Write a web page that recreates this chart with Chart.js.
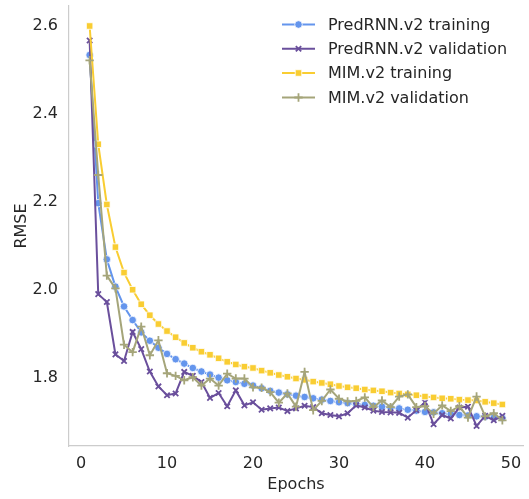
<!DOCTYPE html>
<html>
<head>
<meta charset="utf-8">
<script src="https://cdn.jsdelivr.net/npm/chart.js@4"></script>
<style>
  html, body { margin: 0; padding: 0; background: #ffffff; }
  #wrap { width: 529px; height: 499px; position: relative; }
</style>
</head>
<body>
<div id="wrap"><canvas id="c" width="529" height="499"></canvas></div>
<script>
const epochs = [1,2,3,4,5,6,7,8,9,10,11,12,13,14,15,16,17,18,19,20,21,22,23,24,25,26,27,28,29,30,31,32,33,34,35,36,37,38,39,40,41,42,43,44,45,46,47,48,49];

const predTrain = [2.534,2.197,2.069,2.007,1.962,1.931,1.903,1.884,1.868,1.854,1.842,1.832,1.822,1.814,1.807,1.800,1.794,1.790,1.786,1.782,1.776,1.770,1.766,1.762,1.759,1.756,1.753,1.750,1.747,1.744,1.742,1.740,1.738,1.736,1.734,1.732,1.730,1.727,1.725,1.722,1.721,1.719,1.717,1.715,1.714,1.712,1.711,1.709,1.708];

const predVal = [2.567,1.990,1.972,1.853,1.838,1.904,1.865,1.814,1.780,1.760,1.764,1.813,1.804,1.790,1.754,1.765,1.735,1.771,1.737,1.744,1.727,1.730,1.732,1.724,1.730,1.736,1.733,1.719,1.715,1.712,1.719,1.737,1.732,1.725,1.722,1.721,1.720,1.709,1.726,1.744,1.694,1.715,1.707,1.732,1.734,1.690,1.713,1.703,1.713];

const mimTrain = [2.600,2.331,2.194,2.097,2.039,2.000,1.967,1.942,1.922,1.906,1.892,1.879,1.868,1.859,1.852,1.844,1.836,1.830,1.825,1.822,1.816,1.811,1.806,1.802,1.798,1.795,1.791,1.788,1.785,1.781,1.778,1.776,1.773,1.771,1.769,1.766,1.764,1.762,1.760,1.757,1.755,1.753,1.752,1.750,1.749,1.748,1.745,1.742,1.739];

const mimVal = [2.522,2.261,2.032,2.003,1.875,1.858,1.916,1.851,1.885,1.810,1.804,1.794,1.801,1.782,1.798,1.782,1.809,1.798,1.798,1.778,1.777,1.767,1.743,1.764,1.734,1.813,1.726,1.747,1.773,1.752,1.746,1.747,1.755,1.733,1.748,1.733,1.757,1.762,1.733,1.735,1.718,1.737,1.724,1.735,1.709,1.757,1.712,1.719,1.703];

const seriesNames = ["PredRNN.v2 training","PredRNN.v2 validation","MIM.v2 training","MIM.v2 validation"];
const xTicks = [0,10,20,30,40,50];
const yTicks = [1.8,2.0,2.2,2.4,2.6];

const COLORS = ["#6495ed","#6a4f9c","#f9cd32","#a5a57a"];
const STYLES = ["circle","crossRot","rect","cross"];
const RADII = [3.8,3.8,4.6,4.2];
const TEXT = "#262626";
const FONT = "'DejaVu Sans', sans-serif";
const FS = 16;

function pts(ys){ return ys.map((y,i)=>({x:epochs[i], y:y})); }
const seriesData = [predTrain, predVal, mimTrain, mimVal];

const datasets = seriesData.map((d,i)=>({
  label: seriesNames[i],
  data: pts(d),
  borderColor: COLORS[i],
  backgroundColor: COLORS[i],
  borderWidth: 2,
  pointStyle: STYLES[i],
  pointRadius: RADII[i],
  pointBackgroundColor: COLORS[i],
  pointBorderColor: (STYLES[i]==="cross"||STYLES[i]==="crossRot") ? COLORS[i] : "#ffffff",
  pointBorderWidth: (STYLES[i]==="cross"||STYLES[i]==="crossRot") ? 1.8 : 0.8,
  tension: 0,
  order: 4 - i
}));

const legendPlugin = {
  id: 'mplLegend',
  afterDraw(chart){
    const ctx = chart.ctx;
    const x0 = 282, x1 = 315, tx = 328;
    const rows = [24.5, 48.8, 73.0, 97.5];
    ctx.save();
    seriesNames.forEach((name,i)=>{
      const y = rows[i];
      ctx.strokeStyle = COLORS[i];
      ctx.lineWidth = 2;
      ctx.beginPath(); ctx.moveTo(x0,y); ctx.lineTo(x1,y); ctx.stroke();
      ctx.fillStyle = COLORS[i];
      ctx.strokeStyle = datasets[i].pointBorderColor;
      ctx.lineWidth = datasets[i].pointBorderWidth;
      Chart.helpers.drawPoint(ctx, {pointStyle: STYLES[i], radius: RADII[i], rotation: 0, borderWidth: datasets[i].pointBorderWidth}, (x0+x1)/2, y);
      ctx.fillStyle = TEXT;
      ctx.font = FS + "px " + FONT;
      ctx.textBaseline = "middle";
      ctx.textAlign = "left";
      ctx.fillText(name, tx, y + 1);
    });
    ctx.restore();
  }
};

new Chart(document.getElementById('c'), {
  type: 'line',
  data: { datasets },
  options: {
    responsive: false,
    animation: false,
    devicePixelRatio: 1,
    layout: { padding: { top: 0, right: 5, bottom: 5, left: 12 } },
    plugins: { legend: { display: false }, tooltip: { enabled: false } },
    scales: {
      x: {
        type: 'linear',
        min: -1.4, max: 51.4,
        grid: { display: false, drawTicks: false },
        border: { display: true, color: '#cccccc', width: 1.2 },
        afterBuildTicks(axis){ axis.ticks = xTicks.map(v=>({value:v})); },
        afterFit(axis){ axis.height = 48; axis.paddingLeft = 0; axis.paddingRight = 0; },
        ticks: { color: TEXT, font: { family: FONT, size: FS }, padding: 8.5, maxRotation: 0, callback: v => String(v) },
        title: { display: true, text: 'Epochs', color: TEXT, font: { family: FONT, size: FS }, padding: { top: 0, bottom: 0 } }
      },
      y: {
        type: 'linear',
        min: 1.6445, max: 2.6455,
        grid: { display: false, drawTicks: false },
        border: { display: true, color: '#cccccc', width: 1.2 },
        afterBuildTicks(axis){ axis.ticks = yTicks.map(v=>({value:v})); },
        afterFit(axis){ axis.width = 57; axis.paddingTop = 0; axis.paddingBottom = 0; },
        ticks: { color: TEXT, font: { family: FONT, size: FS }, padding: 11, callback: v => v.toFixed(1) },
        title: { display: true, text: 'RMSE', color: TEXT, font: { family: FONT, size: FS }, padding: { top: 0.5, bottom: 0 } }
      }
    }
  },
  plugins: [legendPlugin]
});
</script>
</body>
</html>
